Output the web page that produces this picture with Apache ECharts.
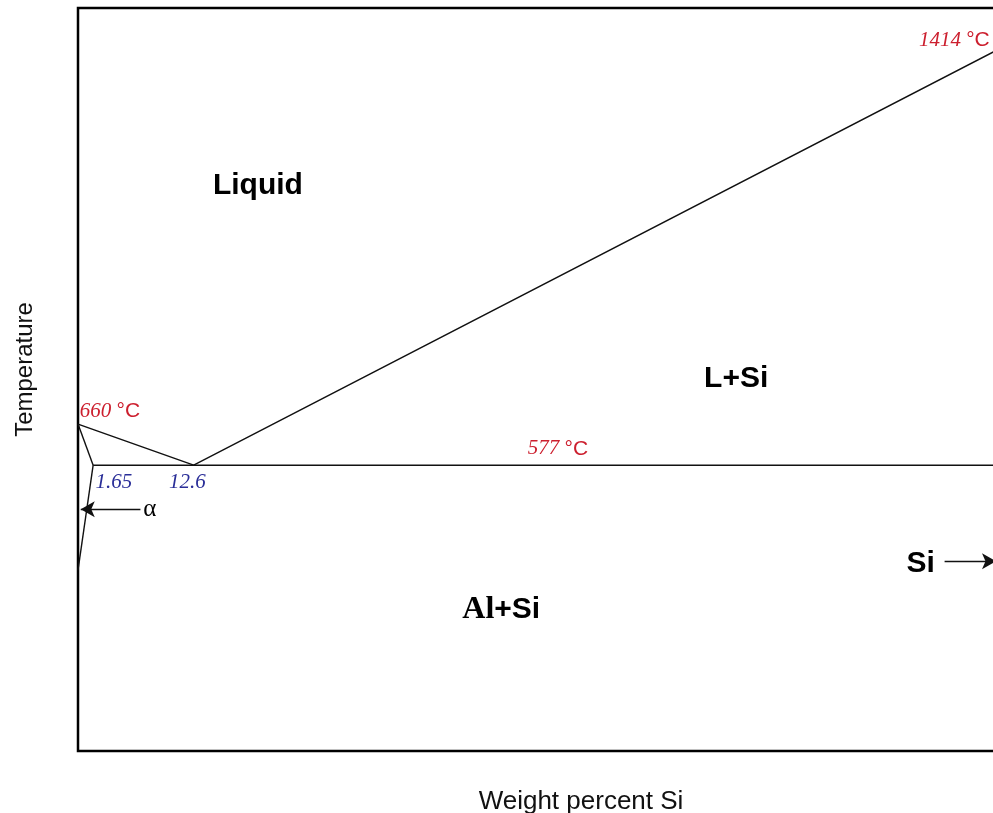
<!DOCTYPE html>
<html>
<head>
<meta charset="utf-8">
<script src="https://cdn.jsdelivr.net/npm/echarts@6/dist/echarts.min.js"></script>
<style>html,body{margin:0;padding:0;background:#fff}#c{width:993px;height:813px}</style>
</head>
<body>
<div id="c"></div>
<script>
// Phase boundaries (x: wt% Si, y: temperature °C, schematic)
const liquidus = [[0, 660], [12.6, 577], [100, 1414]];
const eutecticLine = [[1.65, 577], [100, 577]];
const solidus = [[0, 660], [1.65, 577]];
const solvus = [[1.65, 577], [0, 365]];

// Region labels [x, y, text]
const regionLabels = [
  [19.6, 1142, 'Liquid'],
  [71.7, 751, 'L+Si'],
  [91.8, 378, 'Si']
];
const alSiLabel = [46.1, 285];
// Temperature annotations [x, y, value]
const tempLabels = [
  [0.2, 685, '660'],
  [91.6, 1435, '1414'],
  [49.0, 610, '577']
];
// Composition annotations [x, y, text]
const compLabels = [
  [1.9, 543, '1.65'],
  [9.9, 543, '12.6']
];
// Arrows [[x1,y1],[x2,y2]]
const alphaArrow = [[6.8, 488], [0.3, 488]];
const alphaLabel = [6.9, 488];
const siArrow = [[94.4, 383], [100, 383]];

const chart = echarts.init(document.getElementById('c'));
const lineStyle = {color: '#111', width: 1.4};
function boundary(data) {
  return {type: 'line', data: data, symbol: 'none', lineStyle: lineStyle, silent: true, animation: false};
}
function arrow(a) {
  return {type: 'line', data: [], symbol: 'none', animation: false,
    markLine: {silent: true, symbol: ['none', 'arrow'], symbolSize: [12, 14], label: {show: false},
      lineStyle: {color: '#111', width: 1.4, type: 'solid'},
      data: [[{coord: a[0]}, {coord: a[1]}]]}};
}
function textSeries(data, label) {
  return {type: 'scatter', symbolSize: 0, silent: true, itemStyle: {opacity: 1}, data: data, label: label};
}
chart.setOption({
  animation: false,
  grid: {left: 78, top: 8, bottom: 62, right: -3, outerBoundsMode: 'none', show: true, borderColor: '#000', borderWidth: 2.5},
  xAxis: {type: 'value', min: 0, max: 100, name: 'Weight percent Si', nameLocation: 'middle', nameGap: 38,
    nameTextStyle: {fontFamily: 'Liberation Sans, Arial', fontSize: 26, color: '#111', padding: [0, 0, 0, 88]},
    axisLine: {show: false}, axisTick: {show: false}, axisLabel: {show: false}, splitLine: {show: false}},
  yAxis: {type: 'value', min: 0, max: 1500, name: 'Temperature', nameLocation: 'middle', nameGap: 41,
    nameTextStyle: {fontFamily: 'Liberation Sans, Arial', fontSize: 24, color: '#111', padding: [0, 0, 0, 20]},
    axisLine: {show: false}, axisTick: {show: false}, axisLabel: {show: false}, splitLine: {show: false}},
  series: [
    boundary(liquidus), boundary(eutecticLine), boundary(solidus), boundary(solvus),
    arrow(alphaArrow), arrow(siArrow),
    textSeries(regionLabels.map(d => ({value: [d[0], d[1]], name: d[2]})),
      {show: true, position: 'inside', formatter: '{b}', fontFamily: 'Liberation Sans, Arial',
        fontWeight: 'bold', fontSize: 30, color: '#000'}),
    textSeries([{value: alSiLabel, name: 'AlSi'}],
      {show: true, position: 'inside', formatter: '{a|Al}{b|+Si}',
        rich: {a: {fontFamily: 'Liberation Serif, Times New Roman', fontWeight: 'bold', fontSize: 32, color: '#000'},
               b: {fontFamily: 'Liberation Sans, Arial', fontWeight: 'bold', fontSize: 30, color: '#000'}}}),
    textSeries(tempLabels.map(d => ({value: [d[0], d[1]], name: d[2]})),
      {show: true, position: 'right', distance: 0, formatter: p => '{n|' + p.name + ' }{u|°C}',
        rich: {n: {fontFamily: 'Liberation Serif, Times New Roman', fontStyle: 'italic', fontSize: 21, color: '#cc1f2e'},
               u: {fontFamily: 'Liberation Sans, Arial', fontSize: 21, color: '#cc1f2e'}}}),
    textSeries(compLabels.map(d => ({value: [d[0], d[1]], name: d[2]})),
      {show: true, position: 'right', distance: 0, formatter: '{b}',
        fontFamily: 'Liberation Serif, Times New Roman', fontStyle: 'italic', fontSize: 21, color: '#2a2e98'}),
    textSeries([{value: alphaLabel, name: 'α'}],
      {show: true, position: 'right', distance: 2, formatter: '{b}',
        fontFamily: 'Liberation Serif, Times New Roman', fontSize: 25, color: '#000'})
  ]
});
</script>
</body>
</html>
